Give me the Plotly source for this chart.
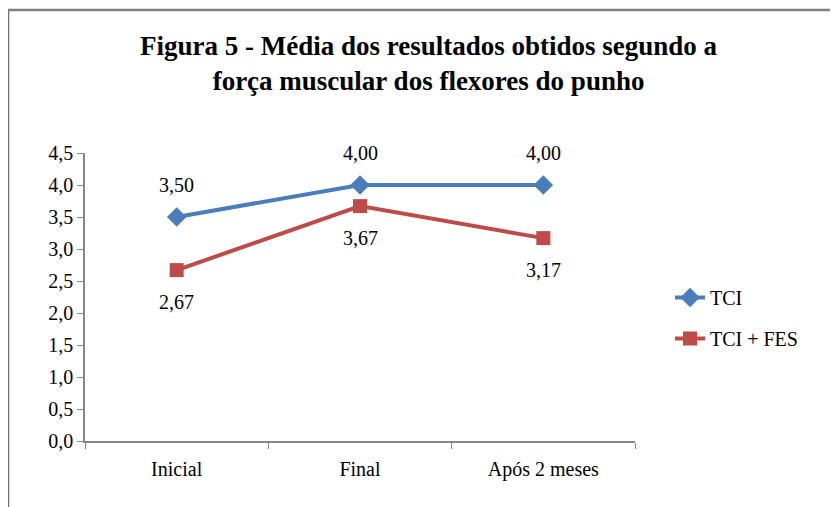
import plotly.graph_objects as go

categories = ["Inicial", "Final", "Após 2 meses"]
tci = [3.50, 4.00, 4.00]
tci_fes = [2.67, 3.67, 3.17]
y_ticks = [0.0, 0.5, 1.0, 1.5, 2.0, 2.5, 3.0, 3.5, 4.0, 4.5]
y_tick_labels = ["0,0", "0,5", "1,0", "1,5", "2,0", "2,5", "3,0", "3,5", "4,0", "4,5"]
title_lines = ["Figura 5 - Média dos resultados obtidos segundo a",
               "força muscular dos flexores do punho"]

BLUE = "#4A7EBB"
RED = "#BE4B48"
FONT = "Liberation Serif"

def fmt(v):
    return f"{v:.2f}".replace(".", ",")

# page offset caused by the default body margin
OFF = 8
W, H = 838 - OFF, 507 - OFF
# plot-area edges in page pixels
PL, PR, PT, PB = 85, 635, 153, 441
pw = PR - PL
ph = PB - PT

def px(x):
    return (x - PL) / pw

def py(y):
    return (PB - y) / ph

fig = go.Figure()
fig.add_trace(go.Scatter(
    x=categories, y=tci, name="TCI", mode="lines+markers",
    line=dict(color=BLUE, width=4),
    marker=dict(symbol="diamond", size=15, color=BLUE),
    legendgroup="a",
))
fig.add_trace(go.Scatter(
    x=categories, y=tci_fes, name="TCI + FES", mode="lines+markers",
    line=dict(color=RED, width=4),
    marker=dict(symbol="square", size=14, color=RED),
    legendgroup="b",
))

annotations = []
for c, v in zip(categories, tci):
    annotations.append(dict(x=c, y=v, xref="x", yref="y", text=fmt(v),
                            showarrow=False, yshift=32,
                            font=dict(family=FONT, size=20, color="black")))
for c, v in zip(categories, tci_fes):
    annotations.append(dict(x=c, y=v, xref="x", yref="y", text=fmt(v),
                            showarrow=False, yshift=-32,
                            font=dict(family=FONT, size=20, color="black")))
annotations.append(dict(
    x=px(429), y=py(29), xref="paper", yref="paper",
    text="<b>" + "<br>".join(title_lines) + "</b>",
    showarrow=False, xanchor="center", yanchor="top",
    font=dict(family=FONT, size=27, color="black"),
))

fig.update_layout(
    width=W, height=H,
    margin=dict(l=PL - OFF, r=W + OFF - PR, t=PT - OFF, b=H + OFF - PB),
    paper_bgcolor="white", plot_bgcolor="white",
    font=dict(family=FONT, size=20, color="black"),
    showlegend=True,
    legend=dict(x=px(670), y=py(318), xanchor="left", yanchor="middle",
                font=dict(family=FONT, size=20, color="black"),
                tracegroupgap=12, bgcolor="rgba(0,0,0,0)", itemwidth=30),
    annotations=annotations,
    shapes=[
        dict(type="line", xref="paper", yref="paper",
             x0=px(8), x1=px(8), y0=py(10), y1=py(520),
             line=dict(color="#6F6F6F", width=2.5)),
        dict(type="line", xref="paper", yref="paper",
             x0=px(8), x1=px(850), y0=py(10), y1=py(10),
             line=dict(color="#7F7F7F", width=2.5)),
    ],
)
fig.update_xaxes(
    type="category", tickson="boundaries", ticks="outside", ticklen=6,
    tickcolor="#868686", showline=True, linecolor="#868686", linewidth=1.5,
    showgrid=False, zeroline=False, range=[-0.5, 2.5],
    ticklabelstandoff=9,
    tickfont=dict(family=FONT, size=20, color="black"),
)
fig.update_yaxes(
    range=[0, 4.5], tickvals=y_ticks, ticktext=y_tick_labels,
    ticks="outside", ticklen=6, tickcolor="#868686",
    showline=True, linecolor="#868686", linewidth=1.5,
    showgrid=False, zeroline=False,
    tickfont=dict(family=FONT, size=20, color="black"),
)

fig.write_html("out.html")
